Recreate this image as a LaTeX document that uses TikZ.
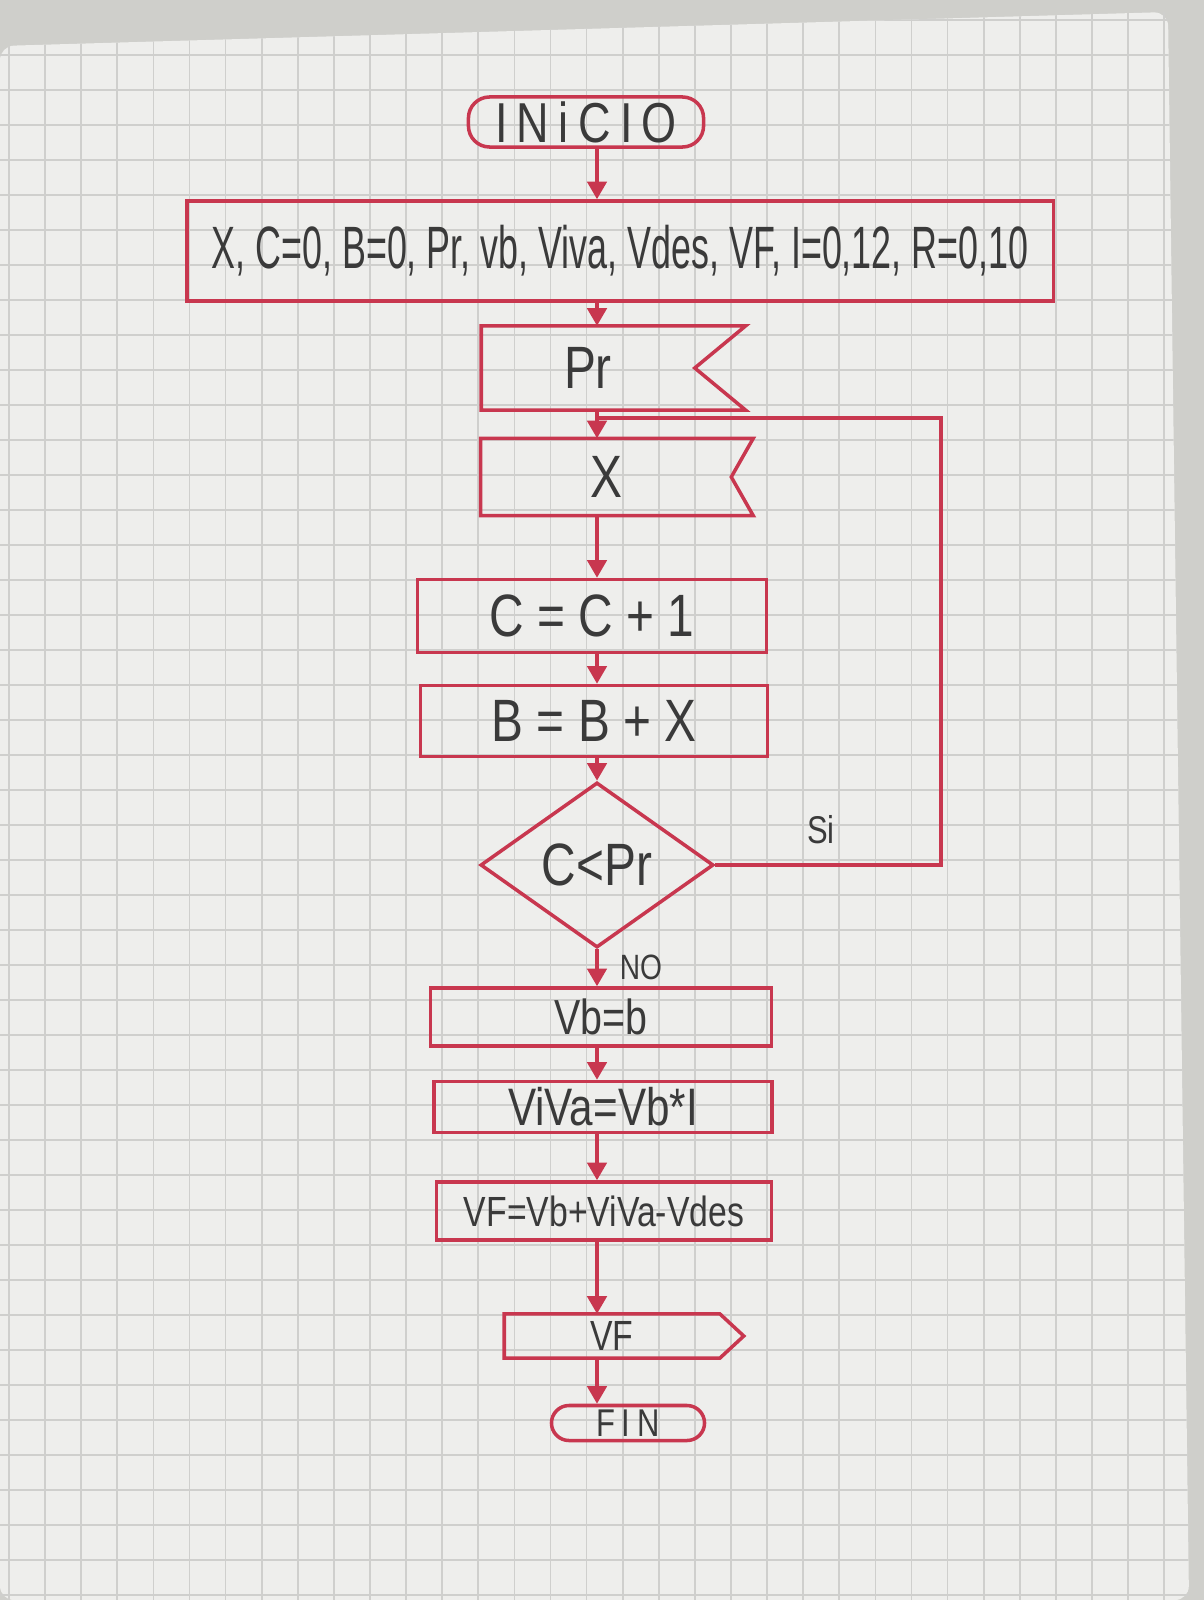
\documentclass[tikz,border=0pt]{standalone}
\usepackage{fontspec}
\setmainfont{Liberation Sans}[FakeStretch=0.8]
\newfontfamily\angosta{Liberation Sans}[FakeStretch=0.6]
\usetikzlibrary{arrows.meta,shapes.geometric,calc}
\definecolor{tinta}{HTML}{C8374F}
\definecolor{lapiz}{HTML}{3A3A3A}
\definecolor{papel}{HTML}{EEEEEC}
\definecolor{mesa}{HTML}{CFCFCB}
\definecolor{cuadro}{HTML}{CFCFCD}
\tikzset{
  trazo/.style={draw=tinta, line width=1pt},
  flecha/.style={trazo, -{Triangle[length=5pt,width=5.5pt]}},
  terminal/.style={trazo, rectangle, rounded corners=6pt, text=lapiz, inner sep=0pt},
  proceso/.style={trazo, rectangle, text=lapiz, inner sep=0pt},
  dato/.style={rectangle, text=lapiz, inner sep=0pt},
  decision/.style={trazo, diamond, text=lapiz, inner sep=0pt},
  etiqueta/.style={text=lapiz, inner sep=1pt},
}
\begin{document}
\begin{tikzpicture}[x=0.01cm, y=-0.01cm]
\useasboundingbox (0,0) rectangle (1204,1600);
% hoja cuadriculada
\fill[mesa] (0,0) rectangle (1204,1600);
\fill[papel, rounded corners=4pt] (0,46) -- (1168,12) -- (1189,1600) -- (0,1600) -- cycle;
\begin{scope}
\clip (0,46) -- (1168,12) -- (1189,1600) -- (0,1600) -- cycle;
\foreach \i in {0,...,33} \draw[cuadro, line width=0.5pt] (9+36.1*\i,0) -- (9+36.1*\i,1600);
\foreach \j in {0,...,46} \draw[cuadro, line width=0.5pt] (0,20+35*\j) -- (1204,20+35*\j);
\end{scope}
\coordinate (eje) at (597,0);
\coordinate (retorno) at (941,0);
% nodos
\node[terminal, minimum width=2.35cm, minimum height=0.5cm, font=\fontsize{16pt}{18pt}\selectfont] (inicio) at (586,122) {I\,N\,i\,C\,I\,O};
\node[proceso, minimum width=8.66cm, minimum height=1cm, font=\angosta\fontsize{17pt}{20pt}\selectfont] (datos) at (620,251) {X, C=0, B=0, Pr, vb, Viva, Vdes, VF, I=0,12, R=0,10};
\node[dato, minimum width=2.12cm, minimum height=0.83cm, font=\fontsize{17pt}{20pt}\selectfont] (pr) at (588,368) {Pr};
\draw[trazo] (pr.south west) -- (pr.north west) -- ($(pr.north east)+(51,0)$) -- (pr.east) -- ($(pr.south east)+(51,0)$) -- cycle;
\node[dato, minimum width=2.49cm, minimum height=0.76cm, font=\fontsize{17pt}{20pt}\selectfont] (x) at (606,477) {X};
\draw[trazo] (x.south west) -- (x.north west) -- ($(x.north east)+(22,0)$) -- (x.east) -- ($(x.south east)+(22,0)$) -- cycle;
\node[proceso, minimum width=3.49cm, minimum height=0.73cm, font=\fontsize{17pt}{20pt}\selectfont] (cont) at (592,616) {C = C + 1};
\node[proceso, minimum width=3.47cm, minimum height=0.71cm, font=\fontsize{17pt}{20pt}\selectfont] (suma) at (594,721) {B = B + X};
\node[decision, minimum width=2.33cm, minimum height=1.65cm, font=\fontsize{17pt}{20pt}\selectfont] (cond) at (597,865) {C\textless Pr};
\node[proceso, minimum width=3.41cm, minimum height=0.58cm, font=\fontsize{14pt}{16pt}\selectfont] (vb) at (601,1017) {Vb=b};
\node[proceso, minimum width=3.38cm, minimum height=0.51cm, font=\fontsize{15pt}{17pt}\selectfont] (viva) at (603,1107) {ViVa=Vb*I};
\node[proceso, minimum width=3.35cm, minimum height=0.58cm, font=\fontsize{12pt}{14pt}\selectfont] (vf) at (604,1211) {VF=Vb+ViVa-Vdes};
\node[dato, minimum width=2.14cm, minimum height=0.43cm, font=\fontsize{12pt}{14pt}\selectfont] (salida) at (612,1336) {VF};
\draw[trazo] (salida.south west) -- (salida.north west) -- (salida.north east) -- ($(salida.east)+(24,0)$) -- (salida.south east) -- cycle;
\node[terminal, minimum width=1.53cm, minimum height=0.35cm, rounded corners=5pt, font=\fontsize{11pt}{13pt}\selectfont] (fin) at (628,1423) {F\,I\,N};
\node[etiqueta, font=\fontsize{11pt}{13pt}\selectfont] (si) at (821,830) {Si};
\node[etiqueta, font=\fontsize{10pt}{12pt}\selectfont] (no) at (641,967) {NO};
\coordinate (union) at (0,418);
% flechas
\draw[flecha] (inicio.south -| eje) -- (datos.north -| eje);
\draw[flecha] (datos.south -| eje) -- (pr.north -| eje);
\draw[flecha] (pr.south -| eje) -- (x.north -| eje);
\draw[flecha] (x.south -| eje) -- (cont.north -| eje);
\draw[flecha] (cont.south -| eje) -- (suma.north -| eje);
\draw[flecha] (suma.south -| eje) -- (cond.north);
\draw[flecha] (cond.south) -- (vb.north -| cond.south);
\draw[flecha] (vb.south -| eje) -- (viva.north -| eje);
\draw[flecha] (viva.south -| eje) -- (vf.north -| eje);
\draw[flecha] (vf.south -| eje) -- (salida.north -| eje);
\draw[flecha] (salida.south -| eje) -- (fin.north -| eje);
\draw[trazo] (cond.east) -- (cond.east -| retorno) -- (retorno |- union) -- (union -| eje);
\end{tikzpicture}
\end{document}
